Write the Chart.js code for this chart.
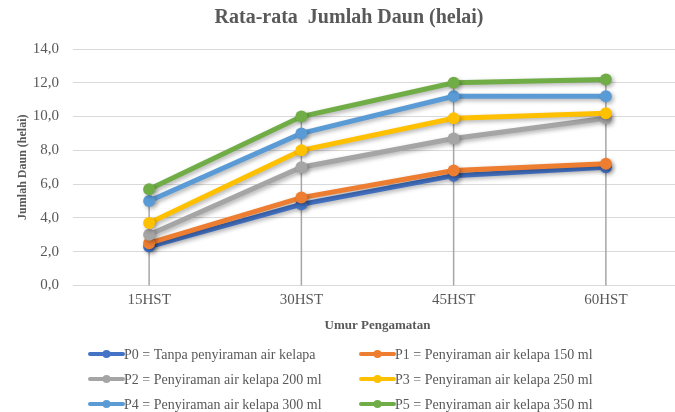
<!DOCTYPE html>
<html>
<head>
<meta charset="utf-8">
<script src="https://cdn.jsdelivr.net/npm/chart.js@4/dist/chart.umd.min.js"></script>
<style>
  html, body { margin: 0; padding: 0; background: #fff; overflow: hidden; }
  #wrap { width: 675px; height: 412px; overflow: hidden; position: relative; }
  canvas { display: block; }
</style>
</head>
<body>
<div id="wrap"><canvas id="c" width="690" height="412" style="width:690px;height:412px"></canvas></div>
<script>
const categories = ['15HST', '30HST', '45HST', '60HST'];
const seriesLabels = [
  'P0 = Tanpa penyiraman air kelapa',
  'P1 = Penyiraman air kelapa 150 ml',
  'P2 = Penyiraman air kelapa 200 ml',
  'P3 = Penyiraman air kelapa 250 ml',
  'P4 = Penyiraman air kelapa 300 ml',
  'P5 = Penyiraman air kelapa 350 ml'
];
const P0 = [2.3, 4.8, 6.5, 7.0];
const P1 = [2.5, 5.2, 6.8, 7.2];
const P2 = [3.0, 7.0, 8.7, 9.9];
const P3 = [3.7, 8.0, 9.9, 10.2];
const P4 = [5.0, 9.0, 11.2, 11.2];
const P5 = [5.7, 10.0, 12.0, 12.2];
const yTicks = [0, 2, 4, 6, 8, 10, 12, 14];
const colors = ['#4472C4', '#ED7D31', '#A5A5A5', '#FFC000', '#5B9BD5', '#70AD47'];
const seriesValues = [P0, P1, P2, P3, P4, P5];

const FONT = "'Liberation Serif', 'Times New Roman', serif";
const GREY = '#595959';

const datasets = seriesValues.map((vals, i) => ({
  label: seriesLabels[i],
  data: vals,
  borderColor: colors[i],
  backgroundColor: colors[i],
  pointBackgroundColor: colors[i],
  pointBorderColor: colors[i],
  borderWidth: 5,
  pointRadius: 6,
  pointBorderWidth: 0,
  pointHoverRadius: 6,
  tension: 0,
  order: seriesValues.length - i
}));

const shadowPlugin = {
  id: 'shadow',
  beforeDatasetDraw(chart) {
    const ctx = chart.ctx;
    ctx.save();
    ctx.shadowColor = 'rgba(0,0,0,0.3)';
    ctx.shadowBlur = 4;
    ctx.shadowOffsetX = 2;
    ctx.shadowOffsetY = 2;
  },
  afterDatasetDraw(chart) {
    chart.ctx.restore();
  }
};

const dropLines = {
  id: 'dropLines',
  beforeDatasetsDraw(chart) {
    const ctx = chart.ctx;
    const x = chart.scales.x, y = chart.scales.y;
    ctx.save();
    ctx.strokeStyle = '#A6A6A6';
    ctx.lineWidth = 1.5;
    categories.forEach((c, j) => {
      const maxV = Math.max(...seriesValues.map(s => s[j]));
      const px = x.getPixelForValue(j);
      ctx.beginPath();
      ctx.moveTo(px, y.getPixelForValue(maxV));
      ctx.lineTo(px, y.getPixelForValue(0));
      ctx.stroke();
    });
    ctx.restore();
  }
};

const customLegend = {
  id: 'customLegend',
  afterDraw(chart) {
    const ctx = chart.ctx;
    const cols = [90, 361];
    const rows = [354, 379, 404];
    ctx.save();
    ctx.font = '14px ' + FONT;
    ctx.textBaseline = 'middle';
    ctx.textAlign = 'left';
    chart.data.datasets.forEach((ds, i) => {
      const cx = cols[i % 2], cy = rows[Math.floor(i / 2)];
      ctx.strokeStyle = ds.borderColor;
      ctx.lineWidth = 4;
      ctx.lineCap = 'round';
      ctx.beginPath();
      ctx.moveTo(cx, cy);
      ctx.lineTo(cx + 33, cy);
      ctx.stroke();
      ctx.fillStyle = ds.borderColor;
      ctx.beginPath();
      ctx.arc(cx + 16.5, cy, 4, 0, Math.PI * 2);
      ctx.fill();
      ctx.fillStyle = GREY;
      ctx.fillText(ds.label, cx + 34, cy + 1);
    });
    ctx.restore();
  }
};

new Chart(document.getElementById('c'), {
  type: 'line',
  data: { labels: categories, datasets },
  options: {
    responsive: false,
    animation: false,
    events: [],
    layout: { padding: { left: 16, right: 8, top: 0, bottom: 79 } },
    plugins: {
      legend: { display: false },
      tooltip: { enabled: false },
      title: {
        display: true,
        text: 'Rata-rata  Jumlah Daun (helai)',
        color: GREY,
        font: { family: FONT, size: 20, weight: 'bold' },
        padding: { top: 6, bottom: 19 }
      }
    },
    scales: {
      x: {
        type: 'category',
        offset: true,
        grid: { display: false, drawTicks: false },
        border: { display: true, color: '#D9D9D9', width: 1 },
        ticks: { color: GREY, font: { family: FONT, size: 15 }, padding: 6 },
        title: {
          display: true,
          text: 'Umur Pengamatan',
          color: GREY,
          font: { family: FONT, size: 13, weight: 'bold' },
          padding: { top: 2, bottom: 0 }
        }
      },
      y: {
        min: 0,
        max: 14,
        afterBuildTicks(scale) { scale.ticks = yTicks.map(v => ({ value: v })); },
        afterFit(scale) { scale.width = 57; },
        grid: { color: '#D9D9D9', lineWidth: 1, drawTicks: false },
        border: { display: false },
        ticks: {
          color: GREY,
          font: { family: FONT, size: 15 },
          padding: 14,
          callback: v => v.toFixed(1).replace('.', ',')
        },
        title: {
          display: true,
          text: 'Jumlah Daun (helai)',
          color: GREY,
          font: { family: FONT, size: 12, weight: 'bold' },
          padding: { top: 0, bottom: 4 }
        }
      }
    }
  },
  plugins: [dropLines, shadowPlugin, customLegend]
});
</script>
</body>
</html>
